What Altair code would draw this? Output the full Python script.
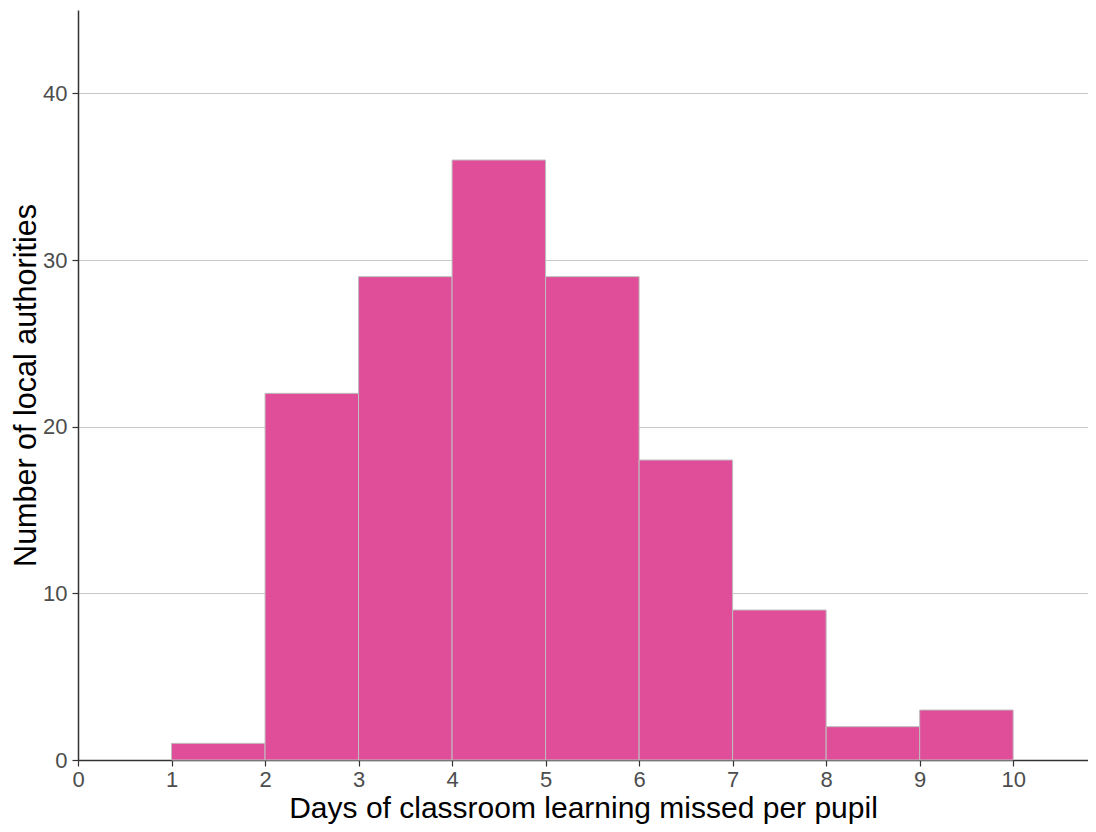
import altair as alt
import pandas as pd

bin_start = [1, 2, 3, 4, 5, 6, 7, 8, 9]
bin_end = [2, 3, 4, 5, 6, 7, 8, 9, 10]
counts = [1, 22, 29, 36, 29, 18, 9, 2, 3]

df = pd.DataFrame({"start": bin_start, "end": bin_end, "count": counts})

FONT = "Liberation Sans"

chart = alt.Chart(df).mark_rect(
    color="#E04E9A", stroke="#BEBEBE", strokeWidth=1
).encode(
    x=alt.X("start:Q",
            scale=alt.Scale(domain=[0, 10.8], nice=False, zero=False),
            axis=alt.Axis(values=list(range(0, 11)), format="d",
                          title="Days of classroom learning missed per pupil",
                          grid=False, labelPadding=3, titlePadding=3,
                          labelFlush=False, titleFontSize=30)),
    x2="end:Q",
    y=alt.Y("count:Q",
            scale=alt.Scale(domain=[0, 45], nice=False),
            axis=alt.Axis(values=[0, 10, 20, 30, 40],
                          title="Number of local authorities",
                          grid=True, labelPadding=5, titlePadding=1,
                          titleFontSize=30.5)),
    y2=alt.datum(0),
).properties(
    width=1010, height=750,
    autosize=alt.AutoSizeParams(type="none"),
    padding={"left": 70, "top": 2, "right": 0, "bottom": 64},
).configure_view(
    stroke=None
).configure_axis(
    labelFont=FONT, titleFont=FONT,
    labelFontSize=22,
    labelColor="#4D4D4D", titleColor="#000000",
    titleFontWeight="normal",
    domainColor="#333333", domainWidth=1.5,
    tickColor="#333333", tickSize=6, tickWidth=1.2,
    gridColor="#C8C8C8", gridWidth=1,
)

chart.save("out.html", embed_options={"renderer": "svg", "actions": False})
